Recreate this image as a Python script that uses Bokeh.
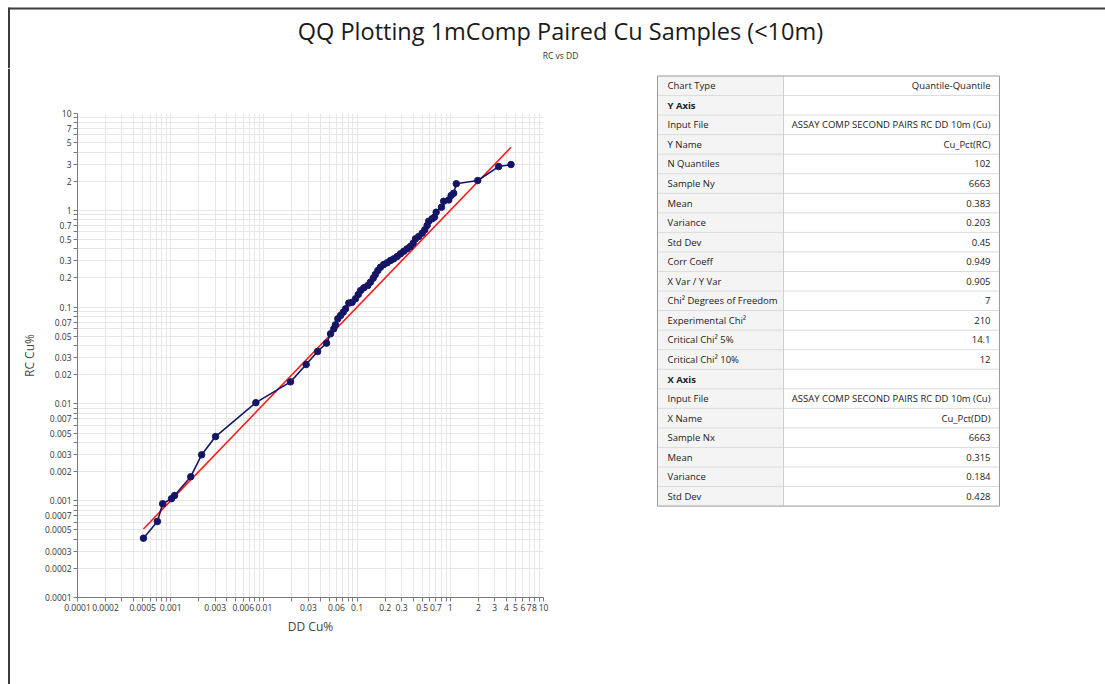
from bokeh.plotting import figure
from bokeh.layouts import column, row
from bokeh.models import Range1d, FixedTicker, PrintfTickFormatter
from bokeh.core.properties import value
from bokeh.embed import file_html
from bokeh.resources import INLINE

FONT = "Open Sans"
INK = "#151565"

title_text = "QQ Plotting 1mComp Paired Cu Samples (<10m)"
subtitle_text = "RC vs DD"
x_label = "DD Cu%"
y_label = "RC Cu%"

# Quantile pairs, Cu %
dd_quantiles = [0.00051, 0.00072, 0.00082, 0.00102, 0.0011, 0.00164, 0.00215, 0.00303,
                0.0082, 0.0193, 0.0284, 0.0377, 0.047, 0.0519, 0.0562, 0.0586, 0.0621,
                0.0664, 0.071, 0.0752, 0.0815, 0.0885, 0.0962, 0.103, 0.109, 0.118,
                0.130, 0.139, 0.149, 0.157, 0.167, 0.178, 0.193, 0.210, 0.228, 0.247,
                0.269, 0.292, 0.317, 0.344, 0.373, 0.399, 0.423, 0.458, 0.499, 0.532,
                0.564, 0.587, 0.638, 0.676, 0.705, 0.804, 0.849, 0.962, 1.02, 1.087,
                1.16, 1.97, 3.30, 4.48]
rc_quantiles = [0.00041, 0.00061, 0.00093, 0.00105, 0.00113, 0.00177, 0.00298, 0.0046,
                0.0103, 0.0169, 0.0255, 0.0348, 0.0424, 0.053, 0.0597, 0.0656, 0.0757,
                0.0819, 0.0886, 0.096, 0.110, 0.112, 0.122, 0.135, 0.148, 0.158,
                0.167, 0.181, 0.199, 0.217, 0.239, 0.258, 0.275, 0.287, 0.303, 0.315,
                0.333, 0.355, 0.378, 0.400, 0.423, 0.457, 0.508, 0.536, 0.580, 0.629,
                0.697, 0.772, 0.817, 0.849, 0.956, 1.076, 1.24, 1.28, 1.42, 1.50,
                1.88, 2.03, 2.83, 2.97]

x_tick_labels = ["0.0001", "0.0002", "0.0005", "0.001", "0.003", "0.006", "0.01",
                 "0.03", "0.06", "0.1", "0.2", "0.3", "0.5", "0.7", "1", "2", "3",
                 "4", "5", "6", "7", "8", "10"]
y_tick_labels = ["0.0001", "0.0002", "0.0003", "0.0005", "0.0007",
                 "0.001", "0.002", "0.003", "0.005", "0.007",
                 "0.01", "0.02", "0.03", "0.05", "0.07",
                 "0.1", "0.2", "0.3", "0.5", "0.7",
                 "1", "2", "3", "5", "7", "10"]

stat_names = ["Chart Type", "Y Axis", "Input File", "Y Name", "N Quantiles", "Sample Ny",
              "Mean", "Variance", "Std Dev", "Corr Coeff", "X Var / Y Var",
              "Chi\u00b2 Degrees of Freedom", "Experimental Chi\u00b2",
              "Critical Chi\u00b2 5%", "Critical Chi\u00b2 10%", "X Axis", "Input File",
              "X Name", "Sample Nx", "Mean", "Variance", "Std Dev"]
stat_values = ["Quantile-Quantile", "", "ASSAY COMP SECOND PAIRS RC DD 10m (Cu)",
               "Cu_Pct(RC)", "102", "6663", "0.383", "0.203", "0.45", "0.949", "0.905",
               "7", "210", "14.1", "12", "", "ASSAY COMP SECOND PAIRS RC DD 10m (Cu)",
               "Cu_Pct(DD)", "6663", "0.315", "0.184", "0.428"]
section_rows = ["Y Axis", "X Axis"]

W, H = 1105, 684
HEAD_H = 68
BODY_H = H - HEAD_H
EDGE_W = 10
QQ_W = 635
TABLE_W = W - EDGE_W - QQ_W
FRAME_COLOR = "#3c3c3c"


def canvas(width, height, x0, y0):
    """Blank figure whose data units are page pixels (y grows downward)."""
    f = figure(width=width, height=height, x_range=Range1d(x0, x0 + width),
               y_range=Range1d(y0 + height, y0), toolbar_location=None,
               output_backend="svg", min_border=0, x_axis_location=None,
               y_axis_location=None, outline_line_color=None, frame_align=False)
    f.xgrid.visible = False
    f.ygrid.visible = False
    return f


# ---- header: title, subtitle, top/left frame edge
head = canvas(W, HEAD_H, 0, 0)
head.segment(x0=[8], y0=[8], x1=[W], y1=[8], line_color=FRAME_COLOR, line_width=2)
head.segment(x0=[8.5], y0=[7], x1=[8.5], y1=[HEAD_H], line_color=FRAME_COLOR, line_width=2)
head.text(x=[560], y=[30], text=[title_text], text_font=value(FONT),
          text_font_size="23.5px", text_align="center", text_baseline="middle",
          text_color="#1a1a1a")
head.text(x=[560], y=[55], text=[subtitle_text], text_font=value(FONT),
          text_font_size="8.5px", text_align="center", text_baseline="middle",
          text_color="#333333")

# ---- left frame edge alongside the chart
edge = canvas(EDGE_W, BODY_H, 0, HEAD_H)
edge.segment(x0=[8.5], y0=[HEAD_H], x1=[8.5], y1=[H], line_color=FRAME_COLOR, line_width=2)

# ---- QQ chart
p = figure(width=QQ_W, height=BODY_H, x_axis_type="log", y_axis_type="log",
           x_range=Range1d(1e-4, 10), y_range=Range1d(1e-4, 10),
           toolbar_location=None, output_backend="svg",
           min_border_left=67, min_border_right=102, min_border_top=45,
           min_border_bottom=87, outline_line_color=None, frame_align=False)


def log_ticker(labels):
    major = [float(s) for s in labels]
    minor = []
    for k in range(-4, 1):
        for n in range(1, 10):
            v = float(f"{n}e{k}")
            if v not in major:
                minor.append(v)
    return FixedTicker(ticks=major, minor_ticks=minor), {v: s for v, s in zip(major, labels)}


xticker, xlabels = log_ticker(x_tick_labels)
yticker, ylabels = log_ticker(y_tick_labels)
p.xaxis.ticker = xticker
p.yaxis.ticker = yticker
p.xgrid.ticker = xticker
p.ygrid.ticker = yticker
p.xaxis.major_label_overrides = xlabels
p.yaxis.major_label_overrides = ylabels
p.xaxis.axis_label = x_label
p.yaxis.axis_label = y_label

for ax in (p.xaxis[0], p.yaxis[0]):
    ax.formatter = PrintfTickFormatter(format="%g")
    ax.axis_line_color = "#7a7a7a"
    ax.major_tick_line_color = "#7a7a7a"
    ax.minor_tick_line_color = "#7a7a7a"
    ax.major_tick_in = 0
    ax.major_tick_out = 4
    ax.minor_tick_in = 0
    ax.minor_tick_out = 4
    ax.major_label_text_font = FONT
    ax.major_label_text_font_size = "8.5px"
    ax.major_label_text_color = "#333333"
    ax.major_label_standoff = 2
    ax.axis_label_text_font = FONT
    ax.axis_label_text_font_size = "12px"
    ax.axis_label_text_font_style = "normal"
    ax.axis_label_text_color = "#444444"
    ax.axis_label_standoff = 4

for g in (p.xgrid[0], p.ygrid[0]):
    g.grid_line_color = "#e7e7e7"
    g.minor_grid_line_color = "#e7e7e7"

# 1:1 reference line across the quantile range
lo, hi = min(dd_quantiles), max(dd_quantiles)
p.line(x=[lo, hi], y=[lo, hi], line_color="#ff1a1a", line_width=1.6)
p.line(x=dd_quantiles, y=rc_quantiles, line_color=INK, line_width=1.6)
p.scatter(x=dd_quantiles, y=rc_quantiles, size=6.5, fill_color=INK, line_color=INK)

# ---- statistics table
tab = canvas(TABLE_W, BODY_H, EDGE_W + QQ_W, HEAD_H)
TX0, TX1, TX2 = 657, 783, 999
TY0, RH = 75.5, 19.55
n_rows = len(stat_names)
TY1 = TY0 + n_rows * RH
tab.quad(left=[TX0], right=[TX1], top=[TY0], bottom=[TY1],
         fill_color="#f4f4f4", line_color=None)
seps = [TY0 + i * RH for i in range(1, n_rows)]
tab.segment(x0=[TX0] * len(seps), y0=seps, x1=[TX2] * len(seps), y1=seps,
            line_color="#dcdcdc", line_width=1)
tab.segment(x0=[TX1], y0=[TY0], x1=[TX1], y1=[TY1], line_color="#d0d0d0", line_width=1)
tab.quad(left=[TX0], right=[TX2], top=[TY0], bottom=[TY1],
         fill_color=None, line_color="#9a9a9a", line_width=1)
centers = [TY0 + (i + 0.5) * RH for i in range(n_rows)]
styles = ["bold" if s in section_rows else "normal" for s in stat_names]
tab.text(x=[TX0 + 10] * n_rows, y=centers, text=stat_names, text_font_style=styles,
         text_font=value(FONT), text_font_size="9.5px", text_align="left",
         text_baseline="middle", text_color="#222222")
tab.text(x=[TX2 - 9] * n_rows, y=centers, text=stat_values,
         text_font=value(FONT), text_font_size="9.5px", text_align="right",
         text_baseline="middle", text_color="#222222")

layout = column(head, row(edge, p, tab, spacing=0), spacing=0)
open("out.html", "w").write(file_html(layout, INLINE))
